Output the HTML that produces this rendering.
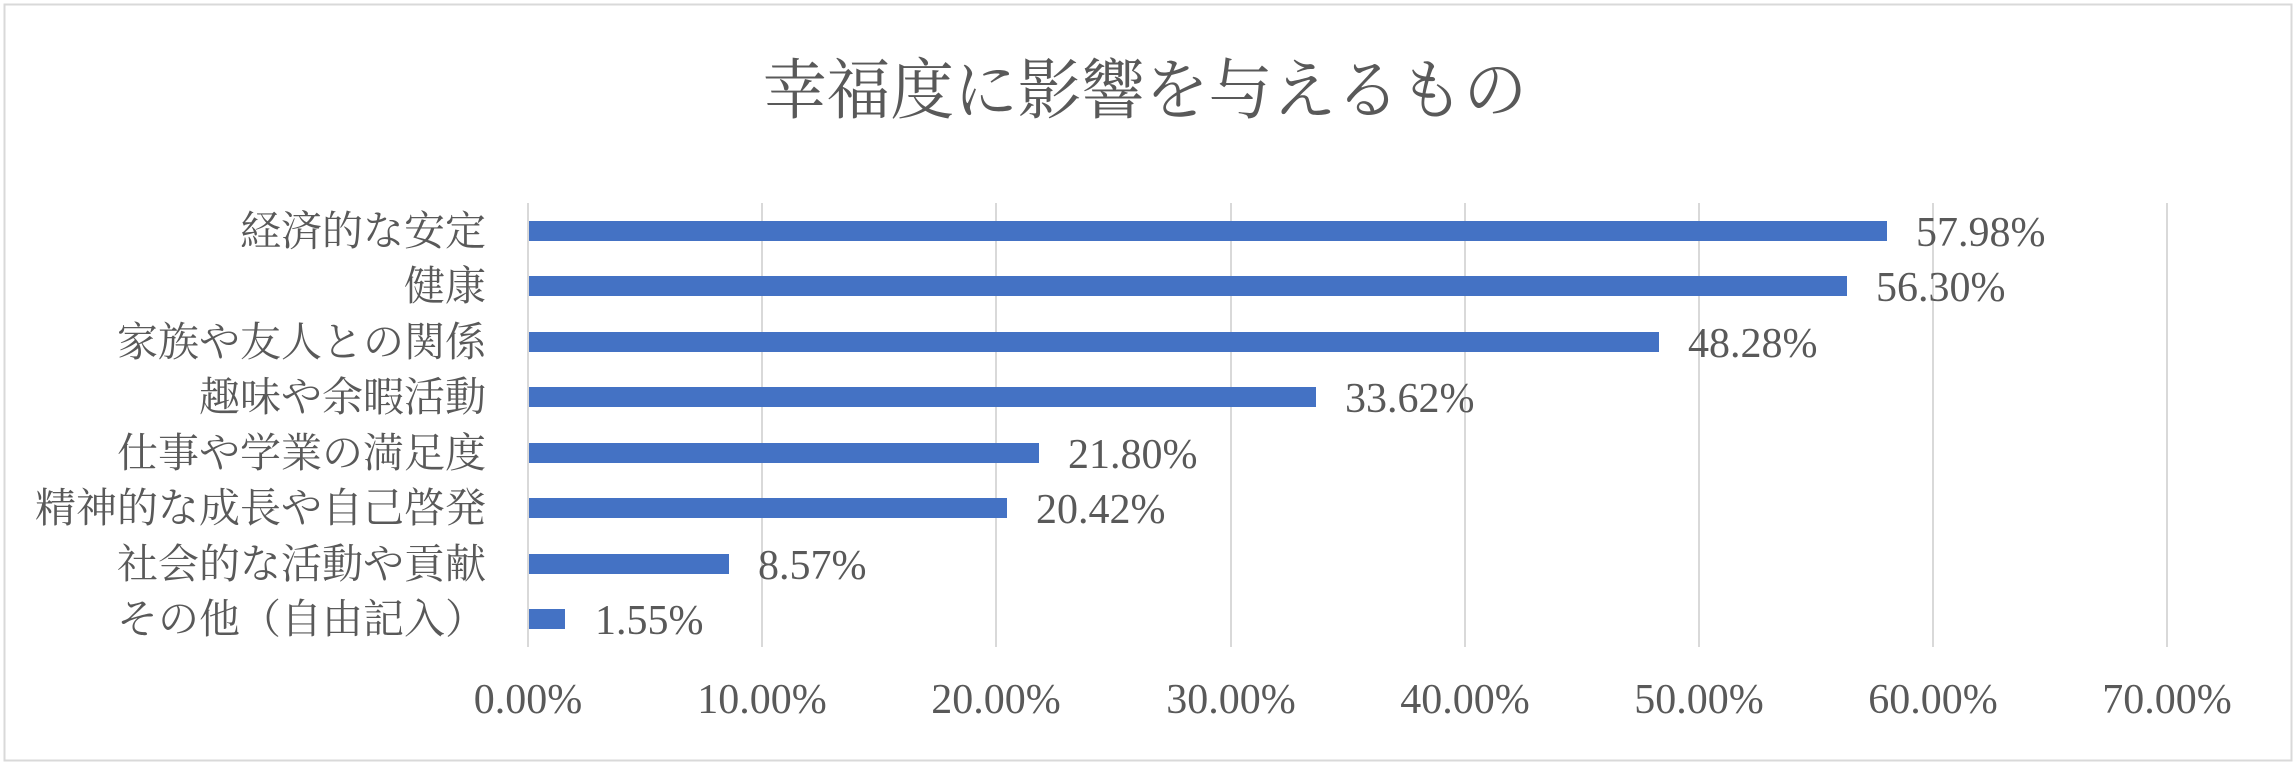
<!DOCTYPE html>
<html><head><meta charset="utf-8"><style>
html,body{margin:0;padding:0;background:#fff;}
svg{display:block;}
text{fill:#595959;font-family:"Liberation Serif","Noto Serif CJK SC",serif;}
</style></head><body>
<svg width="2296" height="765" viewBox="0 0 2296 765" xmlns="http://www.w3.org/2000/svg">
<rect x="4.5" y="4.5" width="2287" height="756" fill="#fff" stroke="#d9d9d9" stroke-width="2"/>
<text x="1145" y="113" font-size="66" text-anchor="middle" textLength="764" lengthAdjust="spacingAndGlyphs">幸福度に影響を与えるもの</text>
<g stroke="#d9d9d9" stroke-width="2">
<line x1="528" y1="203" x2="528" y2="647"/>
<line x1="762" y1="203" x2="762" y2="647"/>
<line x1="996" y1="203" x2="996" y2="647"/>
<line x1="1231" y1="203" x2="1231" y2="647"/>
<line x1="1465" y1="203" x2="1465" y2="647"/>
<line x1="1699" y1="203" x2="1699" y2="647"/>
<line x1="1933" y1="203" x2="1933" y2="647"/>
<line x1="2167" y1="203" x2="2167" y2="647"/>
</g>
<g fill="#4472c4">
<rect x="529" y="221" width="1358" height="20"/>
<rect x="529" y="276" width="1318" height="20"/>
<rect x="529" y="332" width="1130" height="20"/>
<rect x="529" y="387" width="787" height="20"/>
<rect x="529" y="443" width="510" height="20"/>
<rect x="529" y="498" width="478" height="20"/>
<rect x="529" y="554" width="200" height="20"/>
<rect x="529" y="609" width="36" height="20"/>
</g>
<g font-size="41" text-anchor="end">
<text x="486" y="245">経済的な安定</text>
<text x="486" y="300">健康</text>
<text x="486" y="356">家族や友人との関係</text>
<text x="486" y="411">趣味や余暇活動</text>
<text x="486" y="467">仕事や学業の満足度</text>
<text x="486" y="522">精神的な成長や自己啓発</text>
<text x="486" y="578">社会的な活動や貢献</text>
<text x="486" y="633">その他（自由記入）</text>
</g>
<g font-size="42">
<text x="1916" y="246">57.98%</text>
<text x="1876" y="301">56.30%</text>
<text x="1688" y="357">48.28%</text>
<text x="1345" y="412">33.62%</text>
<text x="1068" y="468">21.80%</text>
<text x="1036" y="523">20.42%</text>
<text x="758" y="579">8.57%</text>
<text x="595" y="634">1.55%</text>
</g>
<g font-size="42" text-anchor="middle">
<text x="528" y="713">0.00%</text>
<text x="762" y="713">10.00%</text>
<text x="996" y="713">20.00%</text>
<text x="1231" y="713">30.00%</text>
<text x="1465" y="713">40.00%</text>
<text x="1699" y="713">50.00%</text>
<text x="1933" y="713">60.00%</text>
<text x="2167" y="713">70.00%</text>
</g>
</svg>
</body></html>
